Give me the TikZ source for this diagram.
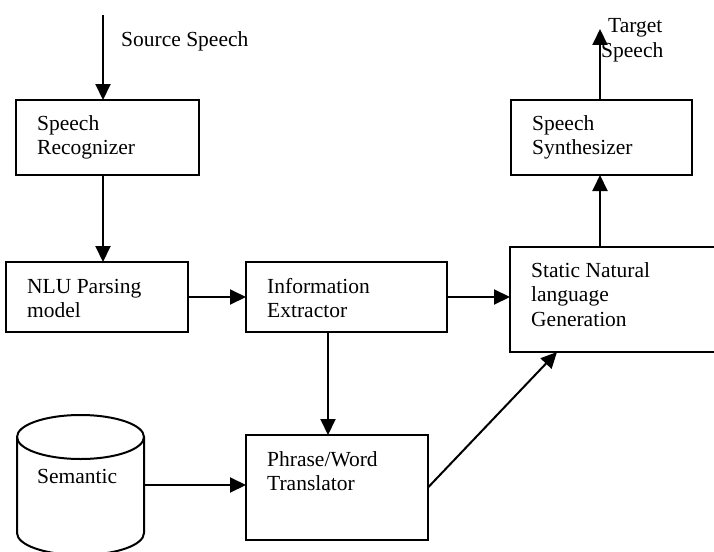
\documentclass[tikz,border=0pt]{standalone}
\usepackage{fontspec}
\setmainfont{Liberation Serif}
\usetikzlibrary{arrows.meta}
\begin{document}
\begin{tikzpicture}[x=1pt,y=-1pt,
  box/.style={draw,line width=2pt,rectangle,inner sep=0pt,outer sep=0pt},
  lbl/.style={anchor=base west,inner sep=0pt,align=left,font=\fontsize{21.5}{24.5}\selectfont},
  arr/.style={line width=2pt,-{Triangle[length=16pt,width=15pt]}},
  ln/.style={line width=2pt}]
\useasboundingbox (0,0) rectangle (714,551);

% processing blocks
\node[box,minimum width=183pt,minimum height=75pt]  (sr)  at (107.5,137.5) {};
\node[box,minimum width=182pt,minimum height=70pt]  (nlu) at (97,297) {};
\node[box,minimum width=201pt,minimum height=70pt]  (ie)  at (346.5,297) {};
\node[box,minimum width=206pt,minimum height=105pt] (nlg) at (613,299.5) {};
\node[box,minimum width=182pt,minimum height=105pt] (pw)  at (337,487.5) {};
\node[box,minimum width=181pt,minimum height=75pt]  (ss)  at (601.5,137.5) {};

% block captions (anchored on the baseline of their last line)
\node[lbl] (srt)  at ([xshift=21pt,yshift=-54.5pt]sr.north west)  {Speech\\Recognizer};
\node[lbl] (nlut) at ([xshift=21pt,yshift=-55.5pt]nlu.north west) {NLU Parsing\\model};
\node[lbl] (iet)  at ([xshift=21pt,yshift=-55.5pt]ie.north west)  {Information\\Extractor};
\node[lbl] (nlgt) at ([xshift=21pt,yshift=-79pt]nlg.north west)   {Static Natural\\language\\Generation};
\node[lbl] (pwt)  at ([xshift=21pt,yshift=-55.5pt]pw.north west)  {Phrase/Word\\Translator};
\node[lbl] (sst)  at ([xshift=21pt,yshift=-54.5pt]ss.north west)  {Speech\\Synthesizer};

% semantic database
\draw[ln] (80.5,437) ellipse [x radius=63.5pt, y radius=22pt];
\draw[ln] (17,437) -- (17,533) arc[start angle=180,end angle=360,x radius=63.5pt,y radius=22pt] -- (144,437);
\node[lbl] (semt) at (37,483) {Semantic};
\coordinate (db) at (144,485);

% input and output
\coordinate (src) at (103,15);
\coordinate (tgt) at (600,29);
\coordinate (iex) at (328,0);
\coordinate (pwx) at (557,0);
\node[lbl] (srcl) at (121,47) {Source Speech};
\node[lbl] (tgtl) at (601,57) {\hspace*{7pt}Target\\Speech};

% connectors
\draw[arr] (src) -- (sr.north -| src);
\draw[arr] (sr.south -| src) -- (nlu.north -| src);
\draw[arr] (nlu.east) -- (ie.west);
\draw[arr] (ie.east) -- (nlg.west |- ie.east);
\draw[arr] (ie.south -| iex) -- (pw.north -| iex);
\draw[arr] (db) -- (db -| pw.west);
\draw[arr] (pw.east) -- (nlg.south -| pwx);
\draw[arr] (nlg.north -| tgt) -- (ss.south -| tgt);
\draw[arr] (ss.north -| tgt) -- (tgt);
\end{tikzpicture}
\end{document}
